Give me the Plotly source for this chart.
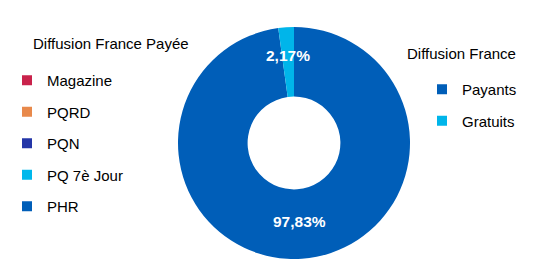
import math
import plotly.graph_objects as go

# ---- data ----
pie_labels = ["Payants", "Gratuits"]
pie_values = [97.83, 2.17]
pie_text = ["97,83%", "2,17%"]
pie_colors = ["#005EB8", "#00B5EA"]

left_title = "Diffusion France Payée"
left_items = ["Magazine", "PQRD", "PQN", "PQ 7è Jour", "PHR"]
left_colors = ["#C9224B", "#E8894B", "#2436A8", "#00B8EC", "#005EB8"]

right_title = "Diffusion France"

# ---- layout constants ----
W, H = 533, 259
CX, CY, R = 294, 143, 117
FONT = "Liberation Sans, Arial, sans-serif"
FS = 15
label_radius = [79, 88]  # px from centre for slice labels

fig = go.Figure()

fig.add_trace(go.Pie(
    labels=pie_labels, values=pie_values, hole=0.4, sort=False,
    direction="clockwise", rotation=0,
    marker=dict(colors=pie_colors, line=dict(width=0)),
    textinfo="none", showlegend=False, hoverinfo="label+percent",
    domain=dict(x=[(CX - R) / W, (CX + R) / W], y=[0, 1 - (CY - R + 1) / H]),
))

for lab, col in zip(left_items, left_colors):
    fig.add_trace(go.Scatter(
        x=[None], y=[None], mode="markers", name=lab,
        marker=dict(symbol="square", size=10, color=col),
        legend="legend", legendgroup="L" + lab,
    ))
for lab, col in zip(pie_labels, pie_colors):
    fig.add_trace(go.Scatter(
        x=[None], y=[None], mode="markers", name=lab,
        marker=dict(symbol="square", size=10, color=col),
        legend="legend2", legendgroup="R" + lab,
    ))

# slice labels from data
annotations = []
total = sum(pie_values)
cum = 0
for v, t, r in zip(pie_values, pie_text, label_radius):
    mid = (cum + v / 2) / total * 2 * math.pi
    cum += v
    x_px = CX + r * math.sin(mid)
    y_px = CY - r * math.cos(mid)
    annotations.append(dict(
        x=x_px / W, y=1 - y_px / H, xref="paper", yref="paper",
        text="<b>" + t + "</b>", showarrow=False,
        font=dict(family=FONT, size=15.5, color="white"),
        xanchor="center", yanchor="middle",
    ))

annotations.append(dict(x=31 / W, y=1 - 43 / H, xref="paper", yref="paper",
                        text=left_title, showarrow=False, xanchor="left", yanchor="middle",
                        font=dict(family=FONT, size=FS, color="black")))
annotations.append(dict(x=405 / W, y=1 - 53 / H, xref="paper", yref="paper",
                        text=right_title, showarrow=False, xanchor="left", yanchor="middle",
                        font=dict(family=FONT, size=FS, color="black")))

legend_common = dict(
    bgcolor="rgba(0,0,0,0)", font=dict(family=FONT, size=FS, color="black"),
    traceorder="grouped", tracegroupgap=9, xanchor="left", yanchor="top",
    itemclick=False, itemdoubleclick=False,
)

fig.update_layout(
    width=W, height=H, margin=dict(l=0, r=0, t=0, b=0),
    paper_bgcolor="white", plot_bgcolor="white",
    xaxis=dict(visible=False), yaxis=dict(visible=False),
    annotations=annotations,
    legend=dict(x=7 / W, y=1 - 64 / H, **legend_common),
    legend2=dict(x=422 / W, y=1 - 73 / H, **legend_common),
    font=dict(family=FONT),
)

fig.write_html("out.html", config={"displayModeBar": False},
               post_script="document.body.style.margin='0';")
